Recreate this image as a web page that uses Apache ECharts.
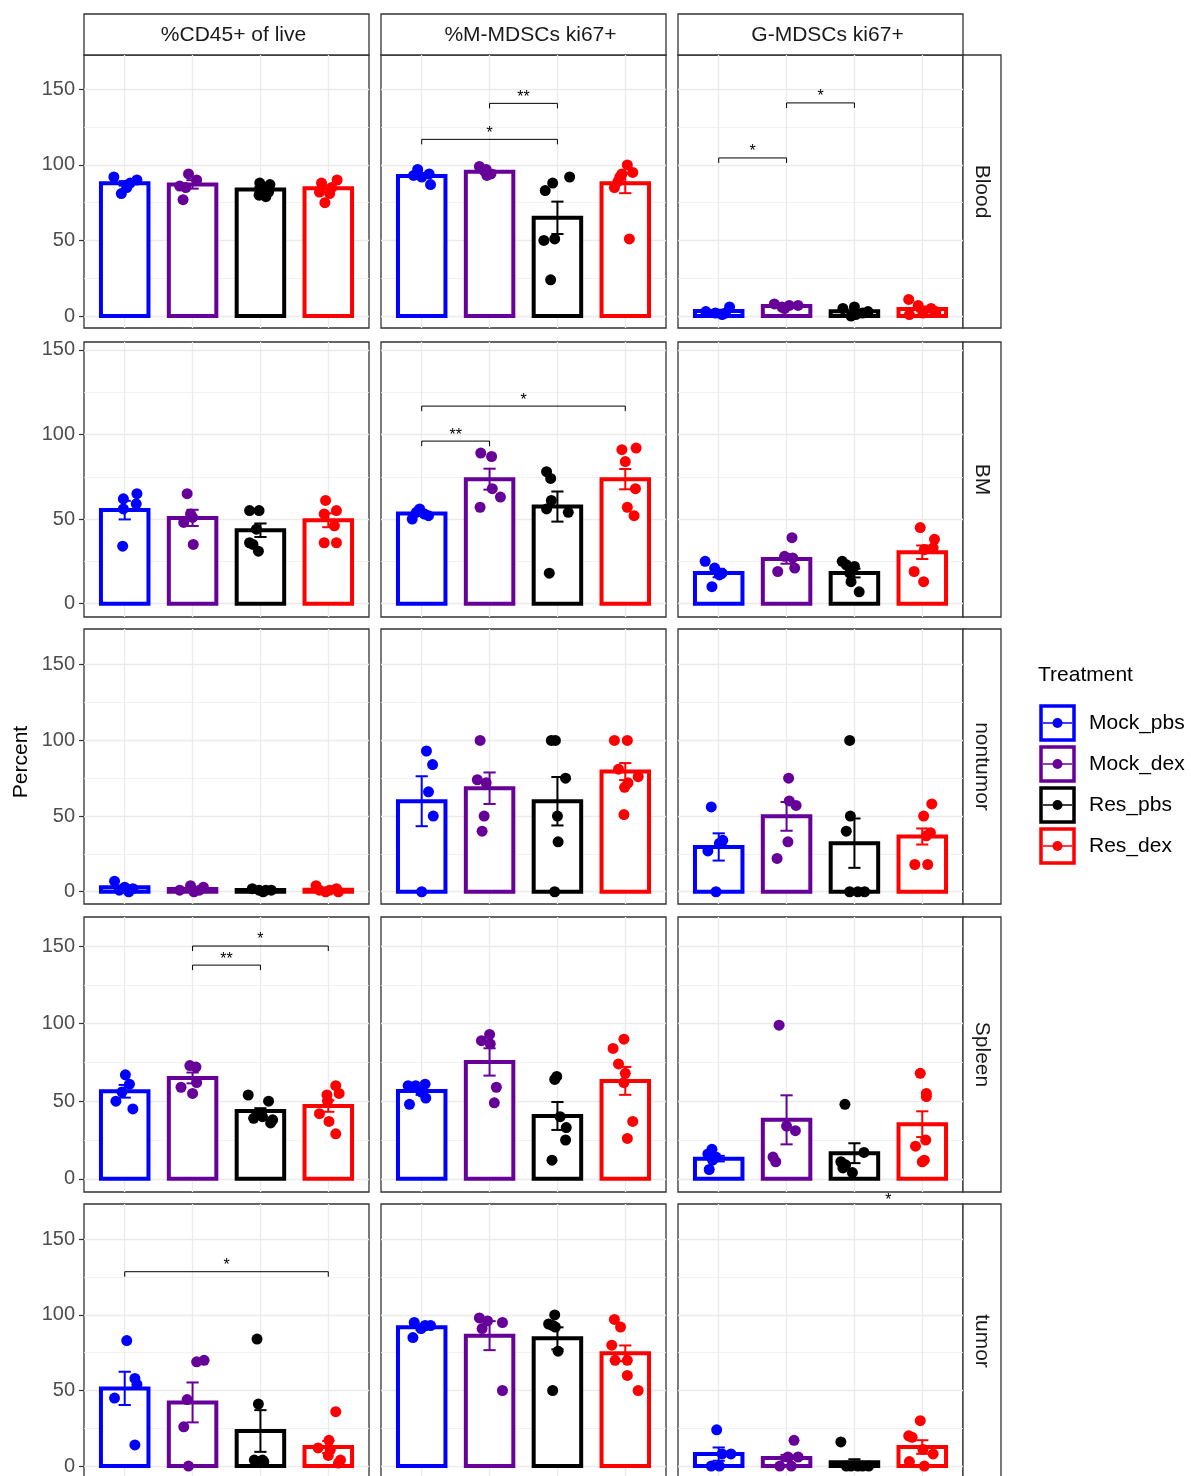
<!DOCTYPE html>
<html>
<head>
<meta charset="utf-8">
<script src="https://cdn.jsdelivr.net/npm/echarts@6/dist/echarts.min.js"></script>
<style>
html,body{margin:0;padding:0;background:#fff;}
#c{width:1191px;height:1476px;}
</style>
</head>
<body>
<div id="c"></div>
<script>
// ---------------- DATA ----------------
const treatments = ['Mock_pbs', 'Mock_dex', 'Res_pbs', 'Res_dex'];
const measures = ['%CD45+ of live', '%M-MDSCs ki67+', 'G-MDSCs ki67+'];
const tissues = ['Blood', 'BM', 'nontumor', 'Spleen', 'tumor'];
const yTickValues = [0, 50, 100, 150];
const yMinorValues = [25, 75, 125];
const xCategoryValues = [1, 2, 3, 4];

// bar heights (mean) per tissue: [CD45, M-MDSC, G-MDSC] x [Mock_pbs, Mock_dex, Res_pbs, Res_dex]
const meanBlood = [[87.8, 87.1, 83.8, 84.5], [92.7, 95.5, 65.0, 87.8], [3.4, 6.6, 3.2, 4.7]];
const meanBM = [[55.3, 50.7, 43.4, 49.3], [53.3, 73.6, 57.4, 73.6], [18.1, 26.4, 18.1, 30.4]];
const meanNontumor = [[2.9, 1.8, 1.1, 1.3], [59.8, 68.4, 59.8, 79.4], [29.6, 49.8, 32.1, 36.5]];
const meanSpleen = [[56.4, 65.0, 43.7, 46.9], [56.6, 75.3, 40.5, 63.1], [13.0, 38.0, 16.5, 35.2]];
const meanTumor = [[51.4, 42.1, 23.2, 12.6], [91.8, 86.3, 84.5, 74.6], [7.9, 5.4, 2.5, 12.6]];

// standard errors
const seBlood = [[1.5, 2.8, 1.5, 2.0], [1.5, 0.8, 10.7, 6.5], [0.8, 0.7, 0.9, 1.6]];
const seBM = [[5.5, 4.8, 4.0, 4.1], [0.9, 6.2, 8.9, 6.0], [2.5, 2.8, 2.6, 4.0]];
const seNontumor = [[1.2, 0.7, 0.3, 0.6], [16.5, 10.4, 16.0, 5.6], [9.0, 9.5, 16.3, 5.3]];
const seSpleen = [[4.1, 3.5, 1.8, 3.7], [2.5, 8.8, 9.0, 9.0], [1.8, 15.8, 6.4, 8.3]];
const seTumor = [[11.0, 13.2, 13.8, 4.0], [1.8, 9.6, 7.3, 5.2], [4.4, 2.0, 2.0, 4.5]];

// individual points
const ptsBlood = [
  [[92, 90, 88, 85, 81], [94, 90, 86, 85, 77], [88, 87, 83, 82, 80, 79], [90, 88, 85, 82, 81, 75]],
  [[97, 94, 93, 92, 87], [99, 97, 96, 94, 93], [92, 88, 83, 51, 50, 24], [100, 95, 94, 92, 89, 85, 51]],
  [[6, 3, 2, 2, 1], [8, 7, 7, 6, 5], [6, 5, 3, 2, 1, 0], [11, 7, 5, 3, 2, 1]]
];
const ptsBM = [
  [[65, 62, 59, 56, 34], [65, 53, 51, 48, 35], [55, 55, 44, 36, 35, 31], [61, 55, 53, 46, 36, 36]],
  [[56, 54, 53, 52, 50], [89, 87, 68, 63, 57], [78, 74, 61, 56, 54, 18], [92, 91, 84, 68, 57, 52]],
  [[25, 21, 18, 17, 10], [39, 28, 27, 21, 19], [25, 23, 22, 18, 13, 7], [45, 38, 33, 32, 19, 13]]
];
const ptsNontumor = [
  [[7, 3, 2, 1, 0], [4, 3, 1, 1, 0], [2, 1, 1, 1, 0], [4, 2, 1, 1, 0, 0]],
  [[93, 84, 66, 50, 0], [100, 74, 72, 50, 40], [100, 100, 75, 50, 33, 0], [100, 100, 81, 76, 72, 69, 51]],
  [[56, 34, 32, 27, 0], [75, 60, 57, 33, 22], [100, 50, 40, 0, 0, 0], [58, 50, 39, 37, 18, 18]]
];
const ptsSpleen = [
  [[67, 61, 56, 50, 45], [73, 72, 62, 59, 55], [54, 50, 40, 39, 38, 36], [60, 55, 54, 50, 42, 37, 29]],
  [[61, 60, 60, 56, 52, 48], [93, 89, 87, 59, 49], [66, 64, 40, 33, 25, 12], [90, 84, 74, 68, 62, 37, 26]],
  [[19, 16, 14, 12, 6], [99, 34, 31, 14, 11], [48, 17, 11, 9, 7, 4], [68, 55, 53, 25, 21, 12, 11]]
];
const ptsTumor = [
  [[83, 58, 54, 45, 14], [70, 69, 44, 26, 0], [84, 41, 4, 4, 3, 3], [36, 17, 12, 11, 7, 4, 2]],
  [[95, 93, 93, 91, 85], [98, 96, 95, 91, 50], [100, 94, 93, 92, 76, 50], [97, 92, 80, 70, 70, 60, 50]],
  [[24, 8, 8, 0, 0], [17, 6, 6, 0, 0], [16, 0, 0, 0, 0, 0], [30, 20, 19, 11, 8, 3, 0]]
];

// horizontal jitter of each point (category units)
const jitBlood = [
  [[-0.16, 0.18, 0.08, 0.03, -0.05], [-0.06, 0.06, -0.19, -0.1, -0.14], [-0.01, 0.14, 0.05, 0.12, -0.02, 0.08], [0.13, -0.1, 0.05, -0.13, 0.02, -0.05]],
  [[-0.06, 0.11, -0.12, 0.0, 0.13], [-0.15, -0.05, -0.08, 0.02, -0.04], [0.18, -0.07, -0.18, -0.04, -0.2, -0.1], [0.03, 0.11, -0.05, -0.08, -0.11, -0.16, 0.06]],
  [[0.16, -0.19, -0.05, 0.1, 0.05], [-0.18, 0.04, 0.17, -0.07, -0.03], [0, -0.17, 0.2, 0.12, 0.02, -0.05], [-0.2, -0.06, 0.13, 0.2, 0.01, -0.19]]
];
const jitBM = [
  [[0.18, -0.02, 0.17, -0.02, -0.03], [-0.08, -0.03, 0, -0.13, 0.01], [-0.16, -0.02, -0.06, -0.16, -0.11, -0.03], [-0.04, 0.12, -0.06, 0.09, -0.06, 0.12]],
  [[-0.03, -0.08, 0.04, 0.1, -0.14], [-0.13, 0.03, 0.04, 0.16, -0.14], [-0.16, -0.1, -0.09, -0.16, 0.16, -0.12], [0.16, -0.05, 0, 0.15, 0.03, 0.13]],
  [[-0.2, -0.06, 0.05, 0.01, -0.1], [0.08, -0.03, 0.09, 0.12, -0.13], [-0.18, -0.12, 0, -0.07, -0.05, 0.07], [-0.03, 0.18, 0.16, 0.03, -0.12, 0.02]]
];
const jitNontumor = [
  [[-0.15, 0, 0.12, -0.08, 0.06], [-0.03, 0.16, -0.19, 0.1, 0.02], [-0.12, -0.02, 0.16, 0.08, 0.04], [-0.18, 0.12, -0.13, 0.02, -0.04, 0.15]],
  [[0.07, 0.16, 0.1, 0.17, 0], [-0.14, -0.18, -0.05, -0.08, -0.11], [-0.09, -0.03, 0.12, 0, 0.01, -0.04], [-0.16, 0.03, -0.1, 0.19, 0.04, -0.01, -0.02]],
  [[-0.11, 0.06, 0.01, -0.16, -0.04], [0.03, 0.04, 0.14, 0.02, -0.14], [-0.07, -0.06, -0.12, -0.07, 0.05, 0.15], [0.14, 0.02, 0.12, 0.06, -0.11, 0.08]]
];
const jitSpleen = [
  [[0.01, 0.07, -0.04, -0.13, 0.12], [-0.04, 0.05, 0.06, -0.17, 0], [-0.18, 0.12, 0.03, -0.1, 0.18, 0.15], [0.11, 0.16, -0.02, -0.01, -0.13, 0.01, 0.11]],
  [[0.05, -0.09, -0.2, -0.01, 0.06, -0.18], [0, -0.12, 0.01, 0.1, 0.07], [-0.01, -0.04, 0.04, 0.13, 0.12, -0.08], [-0.02, -0.18, -0.1, 0, -0.02, 0.11, 0.03]],
  [[-0.1, -0.16, -0.04, -0.09, -0.14], [-0.11, 0, 0.13, -0.2, -0.16], [-0.14, 0.14, -0.2, -0.13, -0.17, -0.03], [-0.03, 0.06, 0.06, 0.05, -0.1, 0.03, 0]]
];
const jitTumor = [
  [[0.03, 0.15, 0.18, -0.15, 0.15], [0.17, 0.06, -0.08, -0.13, -0.06], [-0.05, -0.03, -0.09, 0.03, -0.06, 0.05], [0.11, 0.01, -0.15, 0.03, 0, 0.18, 0.15]],
  [[-0.11, 0.13, 0.05, -0.01, -0.13], [-0.15, -0.03, 0.19, -0.11, 0.19], [-0.04, -0.13, -0.07, -0.03, 0.01, -0.07], [-0.16, -0.07, -0.2, -0.15, 0.03, 0.03, 0.19]],
  [[-0.03, 0.05, 0.18, -0.11, 0.01], [0.11, 0.02, 0.17, -0.1, 0.07], [-0.2, -0.12, 0.05, 0.21, -0.05, 0.12], [-0.03, -0.2, -0.15, 0.01, 0.16, -0.19, 0.03]]
];

// significance brackets: [measure index, from group, to group, y, label]
const sigBlood = [[1, 2, 3, 140.7, '**'], [1, 1, 3, 116.9, '*'], [2, 1, 2, 104.6, '*'], [2, 2, 3, 141.0, '*']];
const sigBM = [[1, 1, 4, 116.8, '*'], [1, 1, 2, 96.1, '**']];
const sigNontumor = [];
const sigSpleen = [[0, 2, 4, 150.0, '*'], [0, 2, 3, 137.7, '**']];
const sigTumor = [[0, 1, 4, 128.6, '*'], [2, 3.5, 3.5, 171.4, '*']];

// ---------------- LAYOUT / STYLE ----------------
const colors = ['#0000FF', '#660099', '#000000', '#FF0000'];
const FONT = '"Liberation Sans", Arial, Helvetica, sans-serif';
const colLeft = [84, 381, 678];
const panelW = 285;
const rowTop = [55, 342, 629, 917, 1204];
const rowH = [273, 275, 275, 275, 274];
const rowMin = [-7.9, -7.9, -8.1, -8.5, -7.9];
const rowMax = [172.7, 154.7, 173.6, 168.7, 173.4];
const BAR_HALF = 0.35;   // bar half width, in category units
const CAP_HALF = 0.09;   // error-bar cap half width

const means = [meanBlood, meanBM, meanNontumor, meanSpleen, meanTumor];
const ses = [seBlood, seBM, seNontumor, seSpleen, seTumor];
const pts = [ptsBlood, ptsBM, ptsNontumor, ptsSpleen, ptsTumor];
const jits = [jitBlood, jitBM, jitNontumor, jitSpleen, jitTumor];
const sigs = [sigBlood, sigBM, sigNontumor, sigSpleen, sigTumor];

const grid = [], xAxis = [], yAxis = [], series = [], graphics = [];

for (let r = 0; r < 5; r++) {
  for (let c = 0; c < 3; c++) {
    const g = r * 3 + c;
    grid.push({
      left: colLeft[c], top: rowTop[r], width: panelW, height: rowH[r],
      show: true, backgroundColor: '#fff', borderColor: '#333333', borderWidth: 1.3,
      containLabel: false, outerBoundsMode: 'none'
    });
    xAxis.push({
      gridIndex: g, type: 'value', min: 0.4, max: 4.6,
      axisLine: { show: false },
      axisTick: { show: false, customValues: xCategoryValues },
      axisLabel: { show: false, customValues: xCategoryValues },
      splitLine: { show: true, lineStyle: { color: '#EBEBEB', width: 1.3 } }
    });
    yAxis.push({
      gridIndex: g, type: 'value', min: rowMin[r], max: rowMax[r],
      axisLine: { show: false },
      axisTick: { show: c === 0, customValues: yTickValues, length: 5, lineStyle: { color: '#333333', width: 1.2 } },
      axisLabel: { show: c === 0, customValues: yTickValues, margin: 9, fontSize: 20, color: '#4D4D4D', fontFamily: FONT },
      splitLine: { show: true, lineStyle: { color: '#EBEBEB', width: 1.3 } }
    });
    yAxis.push({
      gridIndex: g, type: 'value', min: rowMin[r], max: rowMax[r], position: 'left',
      axisLine: { show: false },
      axisTick: { show: false, customValues: yMinorValues },
      axisLabel: { show: false, customValues: yMinorValues },
      splitLine: { show: true, lineStyle: { color: '#EFEFEF', width: 0.8 } }
    });

    const m = means[r][c], s = ses[r][c], p = pts[r][c], j = jits[r][c];
    // bars (white fill, coloured outline)
    series.push({
      type: 'custom', name: 'bars', xAxisIndex: g, yAxisIndex: 2 * g, silent: true, z: 2,
      data: m.map((v, i) => [i + 1, v, i]),
      renderItem: function (params, api) {
        const x = api.value(0), v = api.value(1), ci = api.value(2);
        const a = api.coord([x - BAR_HALF, v]), b = api.coord([x + BAR_HALF, 0]);
        return { type: 'rect', shape: { x: a[0], y: a[1], width: b[0] - a[0], height: b[1] - a[1] },
          style: { fill: '#ffffff', stroke: colors[ci], lineWidth: 4 } };
      }
    });
    // error bars
    series.push({
      type: 'custom', xAxisIndex: g, yAxisIndex: 2 * g, silent: true, z: 3, clip: false,
      data: m.map((v, i) => [i + 1, v - s[i], v + s[i], i]),
      renderItem: function (params, api) {
        const x = api.value(0), lo = api.value(1), hi = api.value(2), ci = api.value(3);
        const a = api.coord([x, lo]), b = api.coord([x, hi]);
        const half = api.size([CAP_HALF, 0])[0];
        const st = { stroke: colors[ci], lineWidth: 2, fill: null };
        return { type: 'group', children: [
          { type: 'line', shape: { x1: a[0], y1: a[1], x2: b[0], y2: b[1] }, style: st },
          { type: 'line', shape: { x1: a[0] - half, y1: a[1], x2: a[0] + half, y2: a[1] }, style: st },
          { type: 'line', shape: { x1: b[0] - half, y1: b[1], x2: b[0] + half, y2: b[1] }, style: st }
        ] };
      }
    });
    // points
    const pdata = [];
    p.forEach((grp, i) => grp.forEach((v, k) => {
      pdata.push({ value: [i + 1 + j[i][k], v], itemStyle: { color: colors[i], opacity: 1 } });
    }));
    series.push({
      type: 'scatter', xAxisIndex: g, yAxisIndex: 2 * g, symbol: 'circle', symbolSize: 11,
      silent: true, z: 4, itemStyle: { opacity: 1 }, data: pdata
    });
    // significance brackets
    const br = sigs[r].filter(b => b[0] === c);
    if (br.length) {
      series.push({
        type: 'custom', xAxisIndex: g, yAxisIndex: 2 * g, silent: true, z: 5, clip: false,
        data: br.map(b => [b[1], b[2], b[3]]),
        renderItem: function (params, api) {
          const lab = br[params.dataIndex][4];
          const x1 = api.value(0), x2 = api.value(1), y = api.value(2);
          const a = api.coord([x1, y]), b = api.coord([x2, y]);
          const ch = [];
          const st = { stroke: '#000', lineWidth: 1, fill: null };
          if (x1 !== x2) {
            ch.push({ type: 'line', shape: { x1: a[0], y1: a[1], x2: b[0], y2: b[1] }, style: st });
            ch.push({ type: 'line', shape: { x1: a[0], y1: a[1], x2: a[0], y2: a[1] + 5 }, style: st });
            ch.push({ type: 'line', shape: { x1: b[0], y1: b[1], x2: b[0], y2: b[1] + 5 }, style: st });
          }
          ch.push({ type: 'text', style: { text: lab, x: (a[0] + b[0]) / 2, y: a[1] - 6, fill: '#000',
            fontSize: 16, fontFamily: FONT, align: 'center', verticalAlign: 'middle' } });
          return { type: 'group', children: ch };
        }
      });
    }
  }
}

// strips (facet labels)
for (let c = 0; c < 3; c++) {
  graphics.push({ type: 'rect', shape: { x: colLeft[c], y: 14, width: panelW, height: 41 },
    style: { fill: '#fff', stroke: '#333333', lineWidth: 1.3 } });
  graphics.push({ type: 'text', x: colLeft[c] + panelW / 2 + 7, y: 35,
    style: { text: measures[c], fontSize: 21, fontFamily: FONT, fill: '#1A1A1A', align: 'center', verticalAlign: 'middle' } });
}
for (let r = 0; r < 5; r++) {
  graphics.push({ type: 'rect', shape: { x: colLeft[2] + panelW, y: rowTop[r], width: 38, height: rowH[r] },
    style: { fill: '#fff', stroke: '#333333', lineWidth: 1.3 } });
  graphics.push({ type: 'text', x: colLeft[2] + panelW + 19, y: rowTop[r] + rowH[r] / 2, rotation: -Math.PI / 2,
    style: { text: tissues[r], fontSize: 21, fontFamily: FONT, fill: '#1A1A1A', align: 'center', verticalAlign: 'middle' } });
}
// y axis title
graphics.push({ type: 'text', x: 21, y: 762, rotation: Math.PI / 2,
  style: { text: 'Percent', fontSize: 21, fontFamily: FONT, fill: '#000', align: 'center', verticalAlign: 'middle' } });
// legend
graphics.push({ type: 'text', x: 1038, y: 675,
  style: { text: 'Treatment', fontSize: 21, fontFamily: FONT, fill: '#000', align: 'left', verticalAlign: 'middle' } });
treatments.forEach((t, i) => {
  const y0 = 706 + i * 41;
  graphics.push({ type: 'rect', shape: { x: 1041, y: y0, width: 33, height: 34 },
    style: { fill: '#fff', stroke: colors[i], lineWidth: 3.5 } });
  graphics.push({ type: 'line', shape: { x1: 1043, y1: y0 + 17, x2: 1072, y2: y0 + 17 },
    style: { stroke: colors[i], lineWidth: 1.5 } });
  graphics.push({ type: 'circle', shape: { cx: 1057.5, cy: y0 + 17, r: 5 }, style: { fill: colors[i] } });
  graphics.push({ type: 'text', x: 1089, y: y0 + 17,
    style: { text: t, fontSize: 21, fontFamily: FONT, fill: '#000', align: 'left', verticalAlign: 'middle' } });
});

const chart = echarts.init(document.getElementById('c'), null, { renderer: 'canvas', width: 1191, height: 1476 });
chart.setOption({
  backgroundColor: '#ffffff',
  animation: false,
  grid: grid,
  xAxis: xAxis,
  yAxis: yAxis,
  series: series,
  graphic: { elements: graphics }
});
</script>
</body>
</html>
